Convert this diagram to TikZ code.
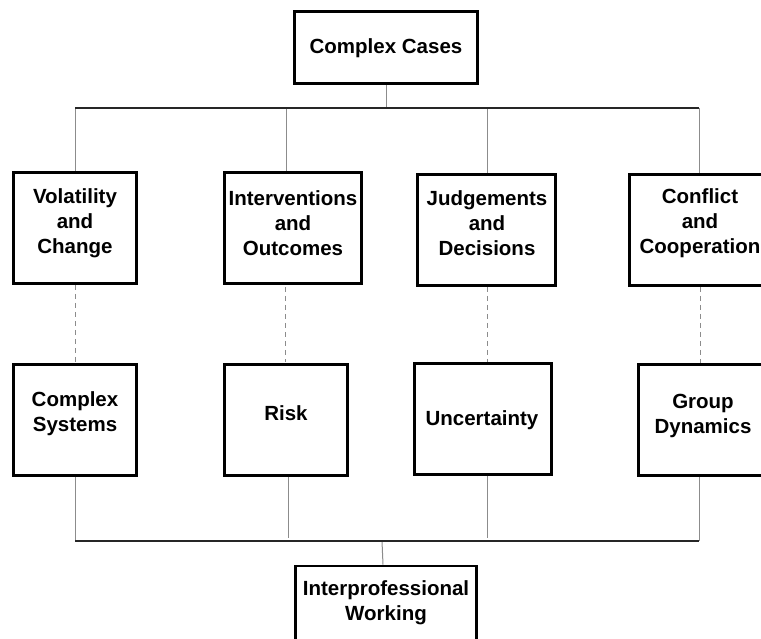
\documentclass[tikz,border=0pt]{standalone}
\usepackage{fontspec}
\setmainfont{Liberation Sans}
\begin{document}
\begin{tikzpicture}[x=1pt,y=-1pt,
  box/.style={draw=black,line width=2.6pt,rectangle,inner sep=0pt,fill=white},
  txt/.style={align=center,inner sep=0pt,font=\bfseries\fontsize{20.5}{25}\selectfont},
  bus/.style={draw=black!85,line width=1.6pt},
  drop/.style={draw=black!45,line width=1pt},
  link/.style={draw=black!45,line width=0.9pt,dash pattern=on 5pt off 4pt}]
\clip (0,0) rectangle (761,639);
\fill[white] (0,0) rectangle (761,639);

% boxes
\node[box,minimum width=183,minimum height=72] (cc)  at (386,47.5) {};
\node[box,minimum width=123,minimum height=111] (vol) at (75,228) {};
\node[box,minimum width=137,minimum height=111] (int) at (293,228) {};
\node[box,minimum width=138,minimum height=111] (jud) at (486.5,230) {};
\node[box,minimum width=141,minimum height=111] (con) at (700,230) {};
\node[box,minimum width=123,minimum height=111] (cs)  at (75,420) {};
\node[box,minimum width=123,minimum height=111] (risk) at (286,420) {};
\node[box,minimum width=137,minimum height=111] (unc) at (483,419) {};
\node[box,minimum width=129,minimum height=111] (grp) at (703,420) {};
\node[box,minimum width=181,minimum height=88] (ipw) at (386,610) {};

% box texts
\node[txt] (cct)  at (386,48) {Complex Cases};
\node[txt] (volt) at (75,223) {Volatility\\and\\Change};
\node[txt] (intt) at (293,223) {Interventions\\and\\Outcomes};
\node[txt] (judt) at (487,223) {Judgements\\and\\Decisions};
\node[txt] (cont) at (700,223) {Conflict\\and\\Cooperation};
\node[txt] (cst)  at (75,414) {Complex\\Systems};
\node[txt] (riskt) at (286,413) {Risk};
\node[txt] (unct) at (482,420) {Uncertainty};
\node[txt] (grpt) at (703,416) {Group\\Dynamics};
\node[txt] (ipwt) at (386,602.5) {Interprofessional\\Working};

% junction points on the two buses
\coordinate (ta) at (75,108);
\coordinate (tb) at (286,108);
\coordinate (tc) at (487,108);
\coordinate (td) at (699,108);
\coordinate (tm) at (386,108);
\coordinate (ba) at (75,541);
\coordinate (bb) at (288,538);
\coordinate (bc) at (487,538);
\coordinate (bd) at (699,541);
\coordinate (bm) at (382,541);

% upper bus
\draw[drop] (cc.south) -- (tm);
\draw[drop] (ta) -- (ta |- vol.north);
\draw[drop] (tb) -- (tb |- int.north);
\draw[drop] (tc) -- (tc |- jud.north);
\draw[drop] (td) -- (td |- con.north);
\draw[bus] (ta) -- (td);

% dashed links between the rows
\draw[link] (vol.south) -- (cs.north);
\draw[link] (285,287) -- (285,362);
\draw[link] (jud.south -| 487,0) -- (487,362);
\draw[link] (con.south) -- (con.south |- grp.north);

% lower bus
\draw[drop] (ba |- cs.south) -- (ba);
\draw[drop] (bb |- risk.south) -- (bb);
\draw[drop] (bc |- unc.south) -- (bc);
\draw[drop] (bd |- grp.south) -- (bd);
\draw[drop] (bm) -- (ipw.north -| 383,0);
\draw[bus] (ba) -- (bd);
\end{tikzpicture}
\end{document}
